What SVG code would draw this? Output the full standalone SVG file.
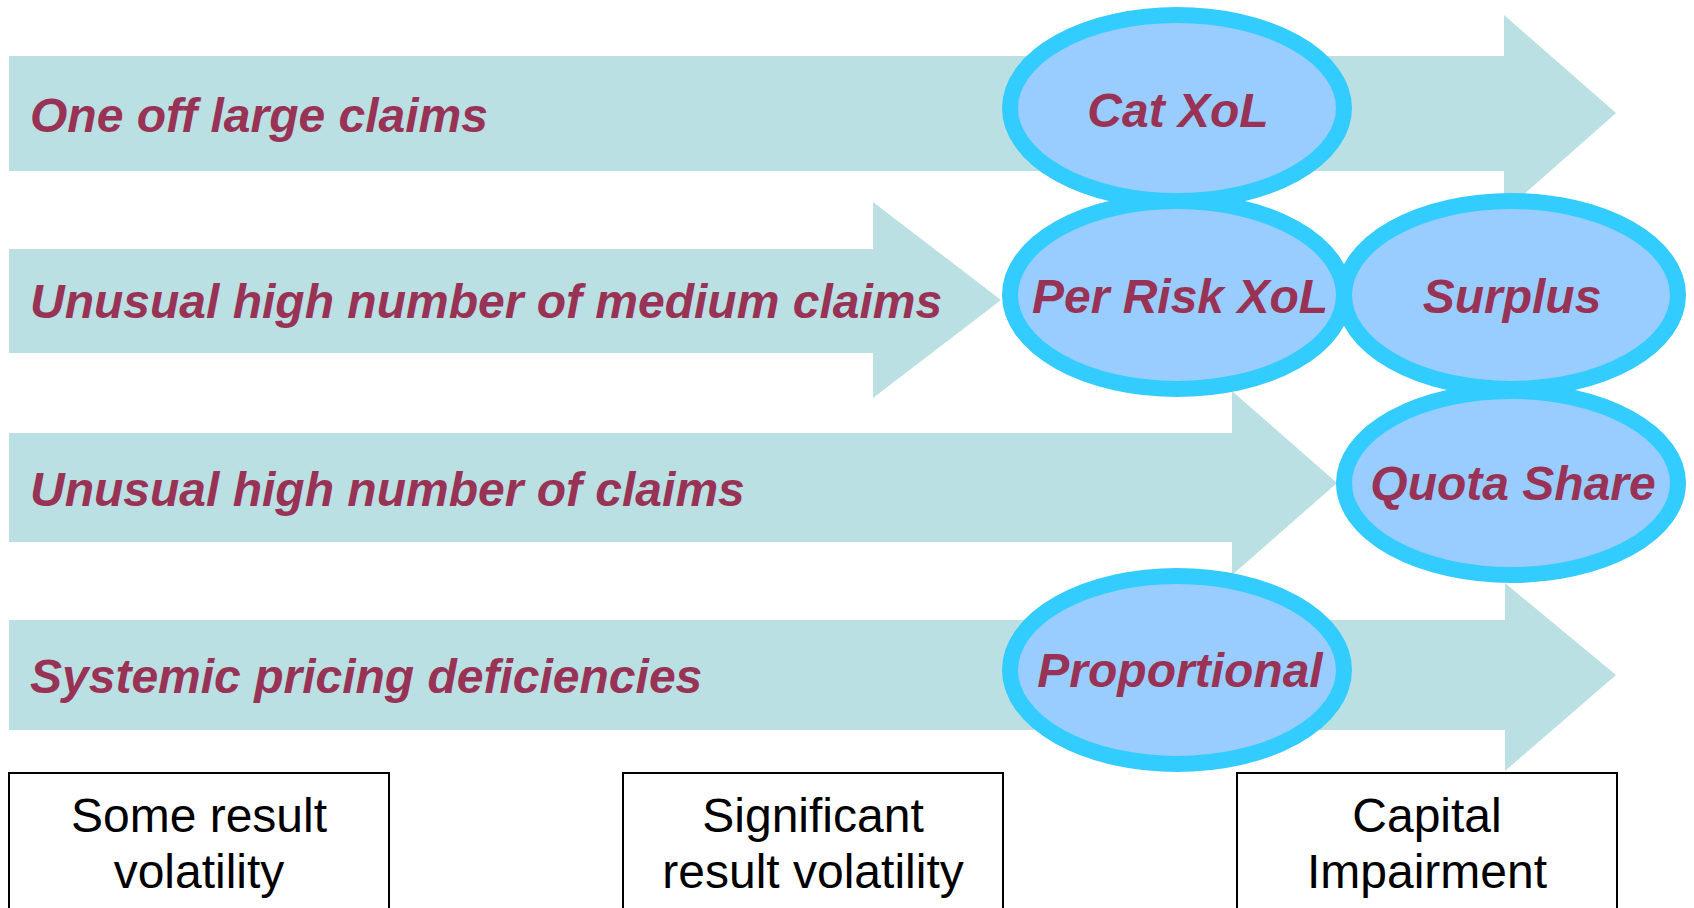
<svg xmlns="http://www.w3.org/2000/svg" width="1694" height="908" viewBox="0 0 1694 908">
<style>
.arrow{fill:#BAE0E3}
.lbl{font-family:"Liberation Sans",Arial,sans-serif;font-size:48px;font-weight:bold;font-style:italic;fill:#993355}
.ell{fill:#99CCFF;stroke:#33CCFF;stroke-width:16}
.etx{font-family:"Liberation Sans",Arial,sans-serif;font-size:48px;font-weight:bold;font-style:italic;fill:#993355;text-anchor:middle}
.box{fill:#FFFFFF;stroke:#000000;stroke-width:2}
.btx{font-family:"Liberation Sans",Arial,sans-serif;font-size:48px;fill:#000000;text-anchor:middle}
</style>
<rect width="1694" height="908" fill="#FFFFFF"/>
<g id="connectors">
  <g id="arrow1"><polygon class="arrow" points="9,56 1504,56 1504,15 1616,113 1504,212 1504,171 9,171"/><text class="lbl" x="30" y="132">One off large claims</text></g>
  <g id="arrow2"><polygon class="arrow" points="9,249 873,249 873,202 1001,300 873,398 873,353 9,353"/><text class="lbl" x="30" y="318">Unusual high number of medium claims</text></g>
  <g id="arrow3"><polygon class="arrow" points="9,433 1232,433 1232,391 1337,483 1232,575 1232,542 9,542"/><text class="lbl" x="30" y="506">Unusual high number of claims</text></g>
  <g id="arrow4"><polygon class="arrow" points="9,620 1505,620 1505,583 1616,675 1505,771 1505,730 9,730"/><text class="lbl" x="30" y="693">Systemic pricing deficiencies</text></g>
</g>
<g id="box1"><rect class="box" x="9" y="773" width="380" height="150"/><text class="btx" x="199" y="832">Some result</text><text class="btx" x="199" y="888">volatility</text></g>
<g id="box2"><rect class="box" x="623" y="773" width="380" height="150"/><text class="btx" x="813" y="832">Significant</text><text class="btx" x="813" y="888">result volatility</text></g>
<g id="box3"><rect class="box" x="1237" y="773" width="380" height="150"/><text class="btx" x="1427" y="832">Capital</text><text class="btx" x="1427" y="888">Impairment</text></g>
<g id="catxol"><ellipse class="ell" cx="1177" cy="108" rx="167" ry="93"/><text class="etx" x="1178" y="127">Cat XoL</text></g>
<g id="perrisk"><ellipse class="ell" cx="1177" cy="295" rx="167" ry="94"/><text class="etx" x="1180" y="313">Per Risk XoL</text></g>
<g id="surplus"><ellipse class="ell" cx="1511" cy="295" rx="167" ry="94"/><text class="etx" x="1512" y="313">Surplus</text></g>
<g id="quota"><ellipse class="ell" cx="1511" cy="483" rx="167" ry="92"/><text class="etx" x="1513" y="500">Quota Share</text></g>
<g id="proportional"><ellipse class="ell" cx="1177" cy="670" rx="167" ry="94"/><text class="etx" x="1180" y="687">Proportional</text></g>
</svg>
